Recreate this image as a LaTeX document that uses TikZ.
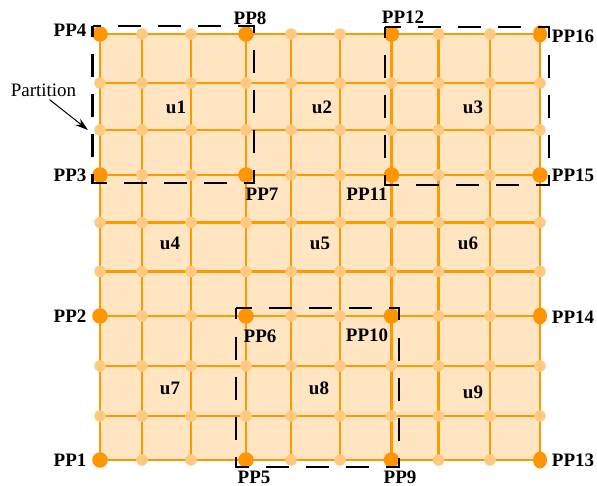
\documentclass[tikz,border=0pt]{standalone}
\usepackage{fontspec}
\setmainfont{Liberation Serif}
\usetikzlibrary{arrows.meta,shapes.geometric}
\definecolor{cellfill}{HTML}{FFE5C2}
\definecolor{gridor}{HTML}{FF9900}
\definecolor{dotlight}{HTML}{FFC97F}
\definecolor{dotdark}{HTML}{FF9500}
\begin{document}
\begin{tikzpicture}[x=1pt,y=-1pt,
  gridline/.style={draw=gridor,line width=2.4pt},
  smalldot/.style={circle,fill=dotlight,inner sep=0pt,minimum size=11.5pt},
  bigdot/.style={circle,fill=dotdark,inner sep=0pt,minimum size=15.5pt},
  bigoval/.style={ellipse,fill=dotdark,inner sep=0pt,minimum width=14pt,minimum height=17pt},
  partbox/.style={draw=black,line width=2.2pt,dash pattern=on 23pt off 17pt,dash phase=11.5pt},
  pplabel/.style={font=\bfseries\fontsize{19}{22}\selectfont,inner sep=0pt},
  ulabel/.style={font=\bfseries\fontsize{19}{22}\selectfont,inner sep=0pt},
  note/.style={font=\fontsize{19}{22}\selectfont,inner sep=0pt},
  arr/.style={draw=black,line width=1pt,-{Stealth[length=13pt,width=8pt]}}
  ]
\useasboundingbox (0,0) rectangle (597,486);
% grid coordinates
\foreach \x [count=\i from 0] in {100,142,191,246,291,340,391.5,438.5,490,540} {
  \foreach \y [count=\j from 0] in {34,83,130,175,222.5,271.5,316,366,416,460} {
    \coordinate (g-\i-\j) at (\x,\y);
  }
}
% background
\fill[cellfill] (g-0-0) rectangle (g-9-9);
% grid lines
\foreach \i in {0,...,9} {
  \draw[gridline] (g-\i-0) -- (g-\i-9);
  \draw[gridline] (g-0-\i) -- (g-9-\i);
}
% small dots
\foreach \i in {0,...,9} {
  \foreach \j in {0,...,9} {
    \pgfmathtruncatemacro\isbig{(mod(\i,3)==0) && (mod(\j,3)==0)}
    \ifnum\isbig=0
      \node[smalldot] (d-\i-\j) at (g-\i-\j) {};
    \fi
  }
}
% big dots
\node[bigdot] (pp4) at (g-0-0) {};
\node[bigdot] (pp8) at (g-3-0) {};
\node[bigdot] (pp12) at (g-6-0) {};
\node[bigoval] (pp16) at (g-9-0) {};
\node[bigdot] (pp3) at (g-0-3) {};
\node[bigdot] (pp7) at (g-3-3) {};
\node[bigdot] (pp11) at (g-6-3) {};
\node[bigdot] (pp15) at (g-9-3) {};
\node[bigdot] (pp2) at (g-0-6) {};
\node[bigdot] (pp6) at (g-3-6) {};
\node[bigdot] (pp10) at (g-6-6) {};
\node[bigoval] (pp14) at (g-9-6) {};
\node[bigdot] (pp1) at (g-0-9) {};
\node[bigdot] (pp5) at (g-3-9) {};
\node[bigdot] (pp9) at (g-6-9) {};
\node[bigoval] (pp13) at (g-9-9) {};
% partitions
\coordinate (pa1) at (92.5,26);  \coordinate (pb1) at (254,183);
\coordinate (pa2) at (385,27);   \coordinate (pb2) at (549,185);
\coordinate (pa3) at (236,308);  \coordinate (pb3) at (399,467);
\draw[partbox] (pa1) rectangle (pb1);
\draw[partbox] (pa2) rectangle (pb2);
\draw[partbox] (pa3) rectangle (pb3);
% unit labels
\node[ulabel] (u1) at (176,107) {u1};
\node[ulabel] (u2) at (322,107) {u2};
\node[ulabel] (u3) at (473,107) {u3};
\node[ulabel] (u4) at (170,243) {u4};
\node[ulabel] (u5) at (320,243) {u5};
\node[ulabel] (u6) at (468,243) {u6};
\node[ulabel] (u7) at (170,388) {u7};
\node[ulabel] (u8) at (319,388) {u8};
\node[ulabel] (u9) at (473,392) {u9};
% PP labels
\node[pplabel] (l4) at (70,30) {PP4};
\node[pplabel] (l8) at (250,18) {PP8};
\node[pplabel] (l12) at (403,17) {PP12};
\node[pplabel] (l16) at (573,36) {PP16};
\node[pplabel] (l3) at (70,175) {PP3};
\node[pplabel] (l7) at (262,194) {PP7};
\node[pplabel] (l11) at (367,194) {PP11};
\node[pplabel] (l15) at (573,175) {PP15};
\node[pplabel] (l2) at (70,316) {PP2};
\node[pplabel] (l6) at (260,336) {PP6};
\node[pplabel] (l10) at (367,335) {PP10};
\node[pplabel] (l14) at (573,317) {PP14};
\node[pplabel] (l1) at (70,460) {PP1};
\node[pplabel] (l5) at (254,477) {PP5};
\node[pplabel] (l9) at (400,477) {PP9};
\node[pplabel] (l13) at (573,460) {PP13};
% partition note
\node[note] (partition) at (43.5,90) {Partition};
\coordinate (tip) at (88,130);
\draw[arr] ([xshift=6pt,yshift=-3pt]partition.south) -- (tip);
\end{tikzpicture}
\end{document}
